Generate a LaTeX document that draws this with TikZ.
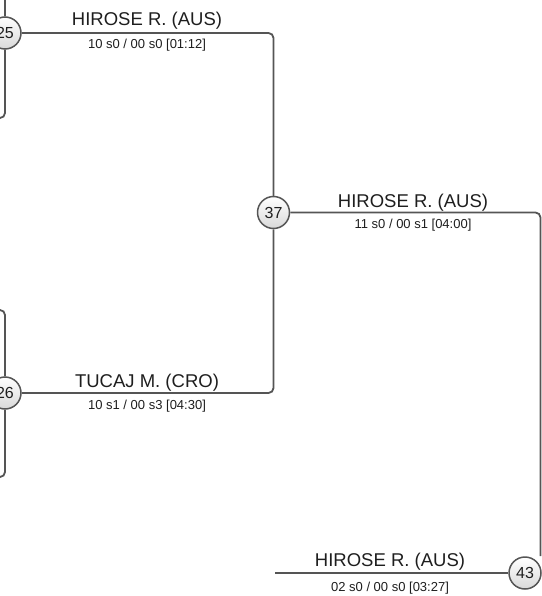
\documentclass[tikz,border=0pt]{standalone}
\usepackage{fontspec}
\setmainfont{Liberation Sans}
\usetikzlibrary{positioning, backgrounds, calc}
\definecolor{linegray}{HTML}{555555}
\definecolor{textgray}{HTML}{1E1E1E}

\begin{document}
\begin{tikzpicture}[
        x=1pt, y=-1pt,
        match/.style={draw=linegray, circle, line width=1.5pt, top color=white, bottom color=gray!30, minimum size=32pt, inner sep=0pt, text=textgray, font=\fontsize{16}{16}\selectfont},
        link/.style={draw=linegray, line width=1.8pt, rounded corners=5pt},
        player/.style={anchor=base, text=textgray, font=\fontsize{18.5}{20}\selectfont},
        score/.style={anchor=base, text=textgray, font=\fontsize{13}{14}\selectfont}
    ]
    \useasboundingbox (0,0) rectangle (541,596);

    % --- match nodes ---
    \node[match] (m25) at (5,33) {25};
    \node[match] (m26) at (5,393) {26};
    \node[match] (m37) at (273.5,212.5) {37};
    \node[match] (m43) at (525,573) {43};

    % --- free ends (cut by the page) ---
    \coordinate (t25) at (5,-5);
    \coordinate (e25) at (-12,118);
    \coordinate (a26) at (-12,310);
    \coordinate (b26) at (-12,477);
    \coordinate (r37) at (540.5,556);
    \coordinate (l43) at (275,573);

    % --- connectors ---
    \begin{scope}[on background layer]
        \draw[link] (t25) -- (m25) |- (e25);
        \draw[link] (a26) -| (m26) |- (b26);
        \draw[link] (m25) -| (m37);
        \draw[link] (m26) -| (m37);
        \draw[link] (m37) -| (r37);
        \draw[link] (l43) -- (m43);
    \end{scope}

    % --- winners and scores ---
    \node[player] (n25) at (147,26) {HIROSE R. (AUS)};
    \node[score] (s25) at (147,48.5) {10 s0 / 00 s0 [01:12]};
    \node[player] (n26) at (147,387.3) {TUCAJ M. (CRO)};
    \node[score] (s26) at (147,409) {10 s1 / 00 s3 [04:30]};
    \node[player] (n37) at (413,207) {HIROSE R. (AUS)};
    \node[score] (s37) at (413,228.5) {11 s0 / 00 s1 [04:00]};
    \node[player] (n43) at (390,566.7) {HIROSE R. (AUS)};
    \node[score] (s43) at (390,591) {02 s0 / 00 s0 [03:27]};
\end{tikzpicture}
\end{document}
